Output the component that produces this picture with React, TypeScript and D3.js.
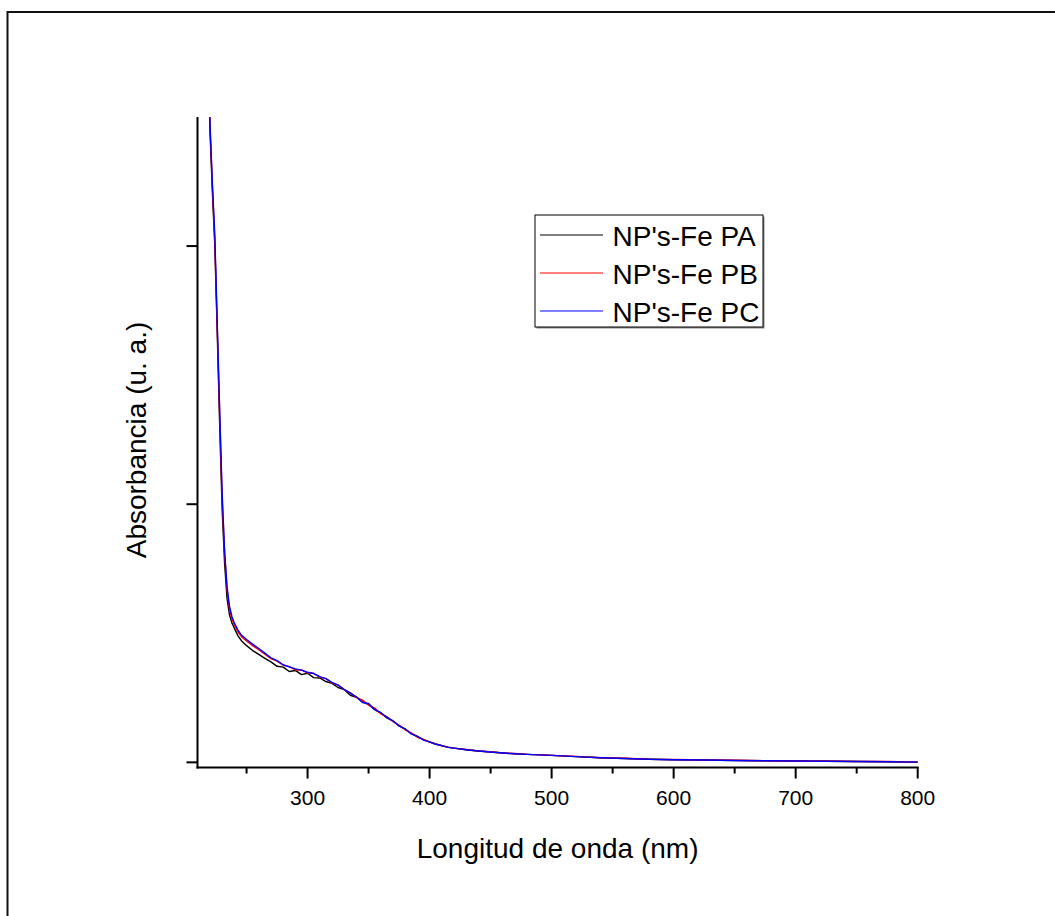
import React from "react";
import * as d3 from "d3";

const wavelengths = [214,216,218,220,222,224,226,228,230,232,234,236,238,240,243,246,250,255,260,265,270,275,280,285,290,295,300,305,310,315,320,325,330,335,340,345,350,355,360,365,370,375,380,385,390,395,400,405,410,415,420,430,440,450,460,470,480,490,500,520,540,560,580,600,625,650,675,700,725,750,775,800];

const seriesPA = [3.58,3.22,2.85,2.45,2.21,2.00,1.66,1.30,0.98,0.77,0.635,0.572,0.540,0.520,0.490,0.470,0.452,0.433,0.418,0.403,0.389,0.372,0.369,0.352,0.356,0.340,0.345,0.328,0.327,0.313,0.306,0.290,0.282,0.260,0.252,0.234,0.224,0.204,0.191,0.172,0.160,0.141,0.129,0.111,0.100,0.088,0.079,0.071,0.065,0.059,0.055,0.049,0.044,0.040,0.036,0.033,0.031,0.029,0.027,0.022,0.018,0.015,0.012,0.010,0.009,0.007,0.006,0.005,0.004,0.003,0.002,0.001];

const seriesPB = [3.60,3.24,2.87,2.47,2.23,2.02,1.68,1.34,1.02,0.81,0.67,0.595,0.556,0.532,0.505,0.486,0.470,0.452,0.436,0.419,0.402,0.392,0.376,0.371,0.358,0.358,0.346,0.345,0.329,0.325,0.307,0.300,0.281,0.270,0.252,0.241,0.222,0.210,0.188,0.177,0.158,0.144,0.126,0.114,0.097,0.089,0.078,0.071,0.064,0.059,0.055,0.050,0.044,0.041,0.036,0.034,0.031,0.030,0.027,0.023,0.018,0.016,0.012,0.011,0.009,0.008,0.006,0.005,0.005,0.003,0.003,0.001];

const seriesPC = [3.60,3.25,2.88,2.48,2.24,2.04,1.70,1.36,1.04,0.82,0.68,0.605,0.565,0.540,0.512,0.492,0.476,0.458,0.441,0.423,0.405,0.394,0.378,0.370,0.362,0.357,0.349,0.344,0.332,0.324,0.310,0.299,0.283,0.268,0.254,0.232,0.228,0.205,0.193,0.174,0.161,0.141,0.130,0.110,0.101,0.086,0.079,0.070,0.065,0.058,0.055,0.049,0.044,0.040,0.036,0.033,0.031,0.029,0.027,0.022,0.018,0.015,0.012,0.010,0.009,0.007,0.006,0.005,0.004,0.003,0.002,0.001];

const seriesNames = ["NP's-Fe PA", "NP's-Fe PB", "NP's-Fe PC"];
const seriesColors = ["#000000", "#ff0000", "#0000ff"];
const xMajorTicks = [300, 400, 500, 600, 700, 800];
const xMinorTicks = [250, 350, 450, 550, 650, 750];
const yMajorTicks = [0, 1, 2];
const xTitle = "Longitud de onda (nm)";
const yTitle = "Absorbancia (u. a.)";

const FONT = "'Liberation Sans', Arial, sans-serif";

export default function App() {
  const W = 1055, H = 916;
  const left = 197.5, right = 917.7, top = 117, bottom = 767.5;
  const x = d3.scaleLinear().domain([209.8, 800]).range([left, right]);
  const y = d3.scaleLinear().domain([-0.02, 2.5]).range([bottom, top]);
  const allSeries = [seriesPA, seriesPB, seriesPC];
  const line = d3.line<[number, number]>().x(d => x(d[0])).y(d => y(d[1]));

  const legX = 535, legY = 215, legW = 228, legH = 112;
  const rowY = [235, 273, 311];

  return (
    <svg width={W} height={H} style={{ position: "absolute", left: 0, top: 0, background: "#fff" }}>
      <rect x={7.5} y={12} width={1100} height={1000} fill="none" stroke="#111" strokeWidth={2} />
      <defs>
        <clipPath id="plotclip">
          <rect x={left} y={top} width={right - left + 2} height={bottom - top} />
        </clipPath>
      </defs>
      <g clipPath="url(#plotclip)">
        {allSeries.map((s, i) => (
          <path key={i}
            d={line(wavelengths.map((w, j) => [w, s[j]] as [number, number])) || ""}
            fill="none" stroke={seriesColors[i]} strokeWidth={1.4} strokeLinejoin="round" />
        ))}
      </g>
      <line x1={left} x2={left} y1={top} y2={bottom + 1} stroke="#000" strokeWidth={2} />
      <line x1={left - 1} x2={right + 1} y1={bottom} y2={bottom} stroke="#000" strokeWidth={2} />
      {xMajorTicks.map(t => (
        <g key={"xm" + t}>
          <line x1={x(t)} x2={x(t)} y1={bottom} y2={bottom + 11} stroke="#000" strokeWidth={2} />
          <text x={x(t)} y={805} textAnchor="middle" fontFamily={FONT} fontSize={21} fill="#000">{t}</text>
        </g>
      ))}
      {xMinorTicks.map(t => (
        <line key={"xn" + t} x1={x(t)} x2={x(t)} y1={bottom} y2={bottom + 6} stroke="#000" strokeWidth={2} />
      ))}
      {yMajorTicks.map(t => (
        <line key={"ym" + t} x1={left - 11} x2={left} y1={y(t)} y2={y(t)} stroke="#000" strokeWidth={2} />
      ))}
      <text x={(left + right) / 2} y={858} textAnchor="middle" fontFamily={FONT} fontSize={28} fill="#000">{xTitle}</text>
      <text transform={`translate(146, 440) rotate(-90)`} textAnchor="middle" fontFamily={FONT} fontSize={28} fill="#000">{yTitle}</text>
      <rect x={legX + 1.5} y={legY + 1.5} width={legW} height={legH} fill="#888" />
      <rect x={legX} y={legY} width={legW} height={legH} fill="#fff" stroke="#000" strokeWidth={1} />
      {seriesNames.map((n, i) => (
        <g key={n}>
          <line x1={540} x2={603} y1={rowY[i]} y2={rowY[i]} stroke={seriesColors[i]} strokeWidth={1.2} />
          <text x={612.5} y={rowY[i] + 10.5} fontFamily={FONT} fontSize={28} fill="#000">{n}</text>
        </g>
      ))}
    </svg>
  );
}
